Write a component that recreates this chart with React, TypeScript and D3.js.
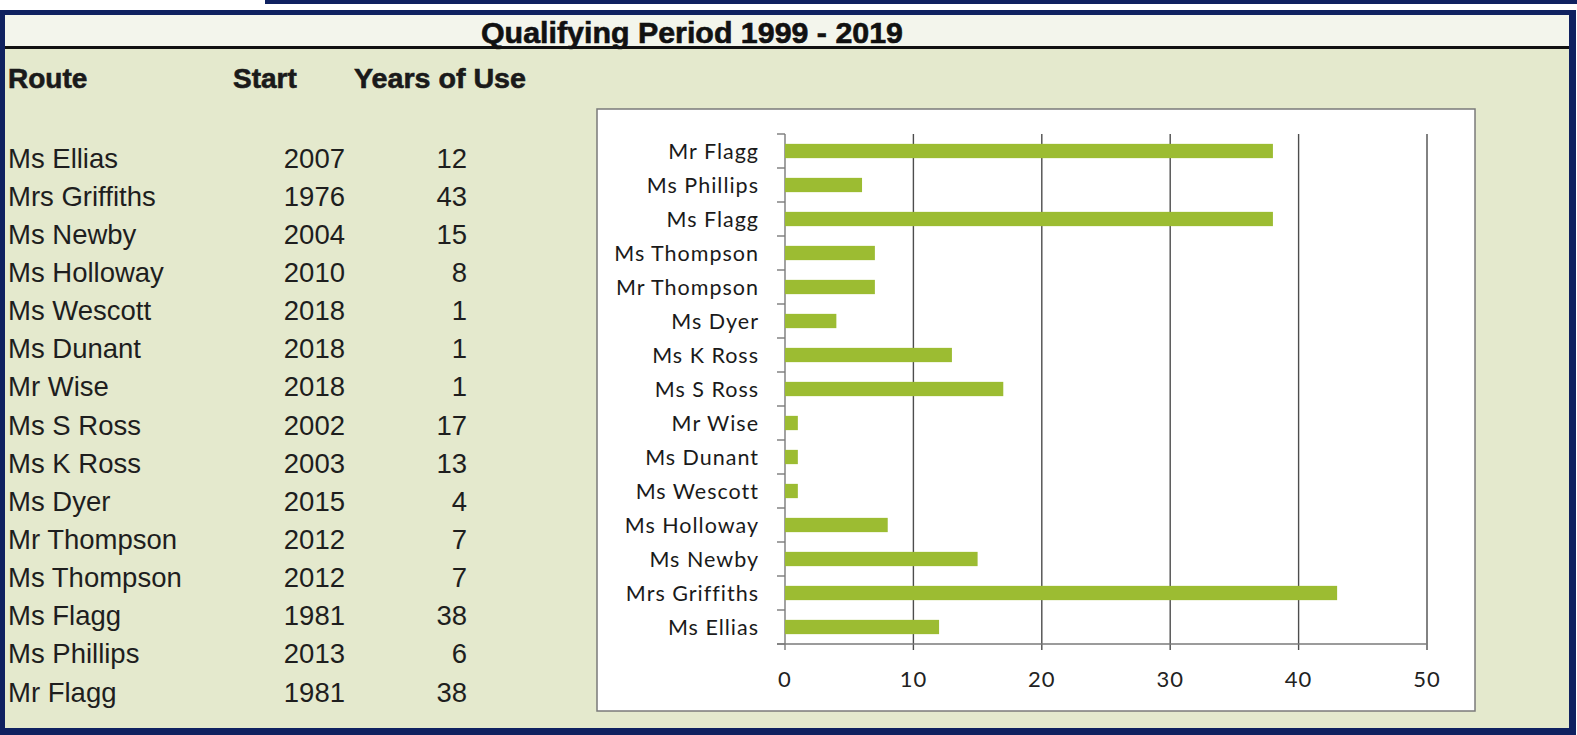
import React from "react";
import * as d3 from "d3";

const titleText = "Qualifying Period 1999 - 2019";
const headers = ["Route", "Start", "Years of Use"];
const routes = [
  "Ms Ellias", "Mrs Griffiths", "Ms Newby", "Ms Holloway", "Ms Wescott",
  "Ms Dunant", "Mr Wise", "Ms S Ross", "Ms K Ross", "Ms Dyer",
  "Mr Thompson", "Ms Thompson", "Ms Flagg", "Ms Phillips", "Mr Flagg",
];
const startYears = [2007, 1976, 2004, 2010, 2018, 2018, 2018, 2002, 2003, 2015, 2012, 2012, 1981, 2013, 1981];
const yearsOfUse = [12, 43, 15, 8, 1, 1, 1, 17, 13, 4, 7, 7, 38, 6, 38];
const xTicks = [0, 10, 20, 30, 40, 50];

const W = 1577;
const H = 735;
const NAVY = "#0f2160";
const BODY = "#e4e9cd";
const BAR = "#9cbc32";

export default function App() {
  const x = d3.scaleLinear().domain([0, 50]).range([785, 1427]);
  const y = d3
    .scaleBand<string>()
    .domain([...routes].reverse())
    .range([134, 644])
    .paddingInner(0.58)
    .paddingOuter(0.29);
  const step = y.step();
  const bandTop = 134;
  const rowY = d3.scaleLinear().domain([0, routes.length - 1]).range([158, 692]);
  const tableFont = "'Liberation Sans', Arial, sans-serif";
  const chartFont = "Lato, 'Open Sans', sans-serif";

  return (
    <svg
      width={W}
      height={H}
      style={{ position: "absolute", left: 0, top: 0, display: "block" }}
      xmlns="http://www.w3.org/2000/svg"
    >
      {/* page background */}
      <rect x={0} y={0} width={W} height={H} fill="#ffffff" />
      <rect x={265} y={0} width={W - 265} height={4} fill={NAVY} />
      {/* frame */}
      <rect x={0} y={10} width={1576} height={725} fill={NAVY} />
      <rect x={5} y={15} width={1564} height={713} fill={BODY} />
      <rect x={5} y={15} width={1564} height={31} fill="#f3f5ec" />
      <rect x={5} y={46} width={1564} height={3} fill="#111" />
      <text
        x={692}
        y={33}
        fontFamily={tableFont}
        fontWeight="bold"
        fontSize={29}
        textAnchor="middle"
        dominantBaseline="central"
        fill="#111"
        stroke="#111"
        strokeWidth={0.6}
        textLength={422}
        lengthAdjust="spacingAndGlyphs"
      >
        {titleText}
      </text>

      {/* table headers */}
      <g fontFamily={tableFont} fontWeight="bold" fontSize={28} fill="#1a1a1a" stroke="#1a1a1a" strokeWidth={0.6}>
        <text x={8} y={88}>{headers[0]}</text>
        <text x={233} y={88}>{headers[1]}</text>
        <text x={354} y={88} textLength={172} lengthAdjust="spacingAndGlyphs">{headers[2]}</text>
      </g>

      {/* table rows */}
      <g fontFamily={tableFont} fontSize={27.5} fill="#1e1e1e">
        {routes.map((r, i) => (
          <g key={r + i}>
            <text x={8} y={rowY(i)} dominantBaseline="central">{r}</text>
            <text x={345} y={rowY(i)} textAnchor="end" dominantBaseline="central">
              {startYears[i]}
            </text>
            <text x={467} y={rowY(i)} textAnchor="end" dominantBaseline="central">
              {yearsOfUse[i]}
            </text>
          </g>
        ))}
      </g>

      {/* chart box */}
      <rect x={597} y={109} width={878} height={602} fill="#ffffff" stroke="#7a7a7a" strokeWidth={1.5} />

      {/* gridlines */}
      {xTicks.map((t) => (
        <g key={t}>
          <line
            x1={x(t)}
            x2={x(t)}
            y1={bandTop}
            y2={650}
            stroke={t === 0 ? "#7a7a7a" : "#4d4d4d"}
            strokeWidth={1.4}
          />
          <text
            x={x(t)}
            y={678}
            fontFamily={chartFont}
            fontSize={22}
            textAnchor="middle"
            dominantBaseline="central"
            fill="#222"
            letterSpacing={1}
          >
            {t}
          </text>
        </g>
      ))}
      {/* x axis line */}
      <line x1={777} x2={x(50)} y1={644} y2={644} stroke="#7a7a7a" strokeWidth={1.4} />
      {/* y ticks at band boundaries */}
      {d3.range(routes.length + 1).map((i) => (
        <line
          key={i}
          x1={777}
          x2={785}
          y1={bandTop + i * step}
          y2={bandTop + i * step}
          stroke="#7a7a7a"
          strokeWidth={1.4}
        />
      ))}

      {/* bars */}
      {routes.map((r, i) => (
        <rect
          key={"b" + r + i}
          x={x(0)}
          y={y(r)!}
          width={x(yearsOfUse[i]) - x(0)}
          height={y.bandwidth()}
          fill={BAR}
        />
      ))}

      {/* y labels */}
      {routes.map((r) => (
        <text
          key={"l" + r}
          x={759}
          y={y(r)! + y.bandwidth() / 2}
          fontFamily={chartFont}
          fontSize={21.5}
          textAnchor="end"
          dominantBaseline="central"
          fill="#1a1a1a"
          letterSpacing={1}
        >
          {r}
        </text>
      ))}
    </svg>
  );
}
